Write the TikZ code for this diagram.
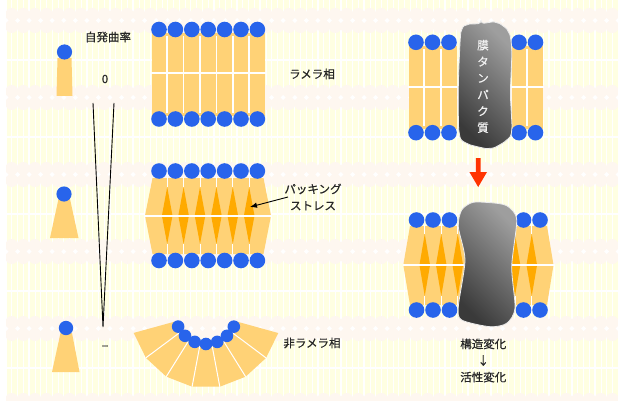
\documentclass[tikz,border=0pt]{standalone}
\usepackage{fontspec}
\setmainfont{Noto Sans CJK JP}[FakeBold=0.6]
\usetikzlibrary{arrows.meta}

\definecolor{bgyellow}{RGB}{255,255,226}
\definecolor{bgpink}{RGB}{254,247,240}
\definecolor{headblue}{RGB}{40,100,235}
\definecolor{tailorange}{RGB}{255,210,118}
\definecolor{voidorange}{RGB}{255,170,0}
\definecolor{arrowred}{RGB}{255,51,0}
\definecolor{protdark}{RGB}{58,58,58}
\definecolor{protlight}{RGB}{158,158,158}

\tikzset{
  head/.style={fill=headblue},
  tailfill/.style={fill=tailorange},
  void/.style={fill=voidorange},
  gap/.style={draw=white, line width=1.7pt},
  sliver/.style={draw=white, line width=0.8pt},
  txt/.style={font=\fontsize{11.5}{16.6}\selectfont, text=black!85, align=center, inner sep=0pt},
  prottxt/.style={font=\fontsize{11.5}{16.5}\selectfont, text=white!90!gray, align=center, inner sep=0pt},
  protein/.style={draw=white!85!gray, line width=0.8pt, top color=protlight, bottom color=protdark, shading angle=-45},
}

\begin{document}
\begin{tikzpicture}[x=1pt,y=-1pt]
\useasboundingbox (0,0) rectangle (618,401);

% ---- wallpaper ----
\fill[white] (0,0) rectangle (618,401);
\begin{scope}
  \clip (6,0) rectangle (618,401);
  \fill[bgyellow] (6,0) rectangle (618,401);
  \foreach \i in {0,...,53} {
    \draw[white, line width=1.3pt] (6+11.55*\i,0) -- (6+11.55*\i,401);
    \draw[white, line width=0.6pt] (11.78+11.55*\i,0) -- (11.78+11.55*\i,401);
  }
  \foreach \yy in {60,137,214,291,368}
    \draw[white, line width=1.5pt] (6,\yy) -- (618,\yy);
  \foreach \yy in {8,85,162,239,316,393} {
    \fill[bgpink] (6,\yy+6) rectangle (618,\yy+19);
    \foreach \i in {0,...,53} {
      \fill[bgpink] (11.78+11.55*\i,\yy+6.3) circle (6.3)
                    (11.78+11.55*\i,\yy+18.7) circle (6.3);
      \fill[white] (6+11.55*\i,\yy+10) -- ++(2.5,2.5) -- ++(-2.5,2.5) -- ++(-2.5,-2.5) -- cycle;
    }
  }
\end{scope}

% ---- single lipids (left column) ----
\fill[tailfill] (57.5,58) -- (71.5,58) -- (72.5,96) -- (56.5,96) -- cycle;
\fill[head] (64.5,52) circle (7.6);
\fill[tailfill] (58.5,199) -- (70,199) -- (78.5,238) -- (50,238) -- cycle;
\fill[head] (64,194) circle (7.6);
\fill[tailfill] (60.5,333) -- (72,333) -- (79.5,372) -- (52,372) -- cycle;
\fill[head] (66,328) circle (7.2);

\node[txt] (curv) at (108,37) {自発曲率};
\node[txt] (zero) at (105,79) {0};
\node[txt] (minus) at (105,348) {−};

\coordinate (vL) at (93,103);
\coordinate (vR) at (114,103);
\coordinate (vB) at (103,327);
\draw[black, line width=0.9pt] (vL) -- (vB) -- (vR);

% ---- lamellar phase ----
\fill[tailfill] (152,33) rectangle (264.5,116);
\foreach \j in {0,...,5} \draw[gap] (167.2+16.4*\j,36) -- (167.2+16.4*\j,113);
\draw[gap] (151,73.3) -- (265.5,73.3);
\foreach \j in {0,...,6} {
  \fill[head] (159+16.4*\j,29.5) circle (7.8);
  \fill[head] (159+16.4*\j,119) circle (7.8);
}
\node[txt] (lam) at (312,74) {ラメラ相};

% ---- packing stress ----
\fill[tailfill] (152.5,178) -- (145,215.7) -- (152.5,254) -- (263.5,254) -- (271,215.7) -- (263.5,178) -- cycle;
\foreach \j in {0,...,5} {
  \fill[void] (167.2+16.4*\j,187) -- ++(5.3,28.7) -- ++(-5.3,28.3) -- ++(-5.3,-28.3) -- cycle;
  \draw[sliver] (167.2+16.4*\j,177) -- (167.2+16.4*\j,187);
  \draw[sliver] (167.2+16.4*\j,244) -- (167.2+16.4*\j,254);
}
\draw[gap] (145,215.7) -- (271,215.7);
\foreach \j in {0,...,6} {
  \fill[head] (159+16.4*\j,171) circle (7.8);
  \fill[head] (159+16.4*\j,260.5) circle (7.8);
}
\node[txt] (stress) at (313,197) {パッキング\\ストレス};
\coordinate (psTail) at (288,197);
\coordinate (psTip) at (250,207);
\draw[black, line width=0.9pt, -{Latex[length=7pt,width=5.5pt]}] (psTail) -- (psTip);

% ---- non-lamellar phase ----
\begin{scope}[shift={(206,313)}]
  \fill[tailfill] (15.5:30) -- (15.5:75) -- (36.8:75) -- (58.1:75) -- (79.4:75) -- (100.7:75)
     -- (122:75) -- (143.3:75) -- (164.6:75) -- (164.6:30) -- (143.3:30) -- (122:30)
     -- (100.7:30) -- (79.4:30) -- (58.1:30) -- (36.8:30) -- cycle;
  \foreach \a in {36.8,58.1,79.4,100.7,122,143.3}
    \draw[white, line width=1pt] (\a:33) -- (\a:75);
  \foreach \a in {26.15,47.45,68.75,90.05,111.35,132.65,153.95}
    \fill[head] (\a:31) circle (6.3);
\end{scope}
\node[txt] (nonlam) at (312,343) {非ラメラ相};

% ---- membrane protein in lamellar bilayer ----
\fill[tailfill] (409,46) rectangle (457,129);
\fill[tailfill] (512,46) rectangle (542.5,129);
\foreach \x in {424.25,440.75,527.25} \draw[gap] (\x,49) -- (\x,126);
\draw[gap] (408,87.3) -- (458,87.3);
\draw[gap] (511,87.3) -- (543.5,87.3);
\foreach \x in {416,432.5,449,519,535.5} {
  \fill[head] (\x,42.3) circle (7.8);
  \fill[head] (\x,132.7) circle (7.8);
}
\path[protein, rounded corners=3pt] plot[smooth cycle, tension=0.45] coordinates {
  (466.7,25) (481,23.5) (496.7,22.7) (508.3,31.7) (511.7,50) (510.5,93) (511.7,130)
  (506.7,140) (490,148.3) (466.7,143.3) (459.3,133.3) (458.3,90) (460,43.3) (461.7,30)};
\node[prottxt] (prot) at (483,86.4) {膜\\タ\\ン\\パ\\ク\\質};

% ---- red arrow ----
\fill[arrowred] (475.8,158) -- (480.6,158) -- (480.6,172) -- (487,172) -- (478.2,187) -- (469.4,172) -- (475.8,172) -- cycle;

% ---- membrane protein under packing stress ----
\fill[tailfill] (410,226) -- (403.3,265) -- (410,305) -- (470,305) -- (470,226) -- cycle;
\fill[tailfill] (505,226) -- (547,226) -- (553.5,265) -- (547,305) -- (505,305) -- cycle;
\foreach \x in {424.75,441.25,457.75,515,531.75} {
  \fill[void] (\x,234) -- ++(5.3,31) -- ++(-5.3,31) -- ++(-5.3,-31) -- cycle;
  \draw[sliver] (\x,225) -- (\x,234);
  \draw[sliver] (\x,296) -- (\x,305);
}
\draw[gap] (403.3,265) -- (553.5,265);
\foreach \x in {416.5,433,449.5,523.5,540} {
  \fill[head] (\x,220) circle (7.8);
  \fill[head] (\x,310) circle (7.8);
}
\path[protein] plot[smooth cycle, tension=0.45] coordinates {
  (461.7,210) (473.3,202.3) (496.7,203.3) (508.3,206.7) (516.7,220) (511.7,266.7)
  (515,308.3) (506.7,323.3) (490,326.7) (461.7,320) (458.3,306.7) (465,260) (458.3,226.7)};

\node[txt] (change) at (483.3,360.5) {構造変化\\↓\\活性変化};
\end{tikzpicture}
\end{document}
